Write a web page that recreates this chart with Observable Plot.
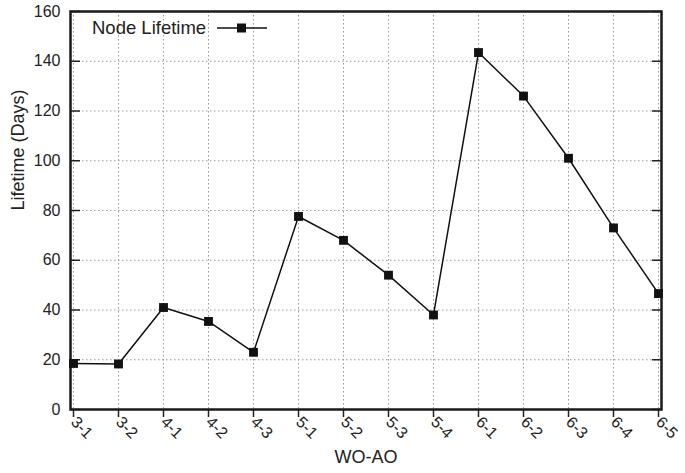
<!DOCTYPE html>
<html>
<head>
<meta charset="utf-8">
<script src="https://cdn.jsdelivr.net/npm/d3@7"></script>
<script src="https://cdn.jsdelivr.net/npm/@observablehq/plot@0.6"></script>
<style>
  html, body { margin: 0; padding: 0; background: #fff; }
  #wrap { position: relative; width: 685px; height: 473px; font-family: "Liberation Sans", Arial, sans-serif; }
  #legend { position: absolute; left: 92px; top: 17px; display: flex; align-items: center; font-size: 18.5px; color: #222; }
  #legend svg { margin-left: 10px; }
</style>
</head>
<body>
<div id="wrap"><div id="legend"><span>Node Lifetime</span><svg width="52" height="12"><line x1="1" y1="6" x2="51" y2="6" stroke="#111" stroke-width="1.5"/><rect x="21" y="1.5" width="9" height="9" fill="#111"/></svg></div></div>
<script>
const categories = ["3-1","3-2","4-1","4-2","4-3","5-1","5-2","5-3","5-4","6-1","6-2","6-3","6-4","6-5"];
const lifetime = [18.5, 18.3, 41, 35.4, 23, 77.6, 68, 54, 38, 143.5, 126, 101, 73, 46.6];
const yTicks = [0, 20, 40, 60, 80, 100, 120, 140, 160];
const seriesName = "Node Lifetime";
const xLabel = "WO-AO";
const yLabel = "Lifetime (Days)";

const data = categories.map((c, i) => ({cat: c, value: lifetime[i]}));

const chart = Plot.plot({
  width: 685,
  height: 473,
  marginLeft: 70,
  marginRight: 24,
  marginTop: 11,
  marginBottom: 64,
  style: {fontFamily: "Liberation Sans, Arial, sans-serif", fontSize: "16px", color: "#222", background: "#fff"},
  x: {type: "point", domain: categories, padding: 0, label: null},
  y: {domain: [0, 160], ticks: yTicks, label: null},
  marks: [
    Plot.gridX(categories, {stroke: "#999", strokeOpacity: 1, strokeDasharray: "1.5,2.5"}),
    Plot.gridY(yTicks, {stroke: "#999", strokeOpacity: 1, strokeDasharray: "1.5,2.5"}),
    Plot.axisY(yTicks, {anchor: "left", tickSize: -10, tickPadding: 20, strokeWidth: 1.5, label: null, fontSize: 16}),
    Plot.axisY(yTicks, {anchor: "right", tickSize: -10, strokeWidth: 1.5, tickFormat: () => "", label: null}),
    Plot.axisX(categories, {anchor: "bottom", tickSize: 8, tickPadding: 2, strokeWidth: 1.5, tickRotate: 45, label: null, fontSize: 16}),
    Plot.text([yLabel], {frameAnchor: "left", dx: -52, rotate: -90, fontSize: 18, fill: "#222"}),
    Plot.text([xLabel], {frameAnchor: "bottom", dy: 53, fontSize: 18, fill: "#222"}),
    Plot.frame({stroke: "#1a1a1a", strokeWidth: 2.5}),
    Plot.line(data, {x: "cat", y: "value", stroke: "#111", strokeWidth: 1.5}),
    Plot.dot(data, {x: "cat", y: "value", symbol: "square", r: 5, fill: "#111", stroke: "none", title: d => `${seriesName}: ${d.value}`})
  ]
});
document.getElementById("wrap").prepend(chart);
</script>
</body>
</html>
